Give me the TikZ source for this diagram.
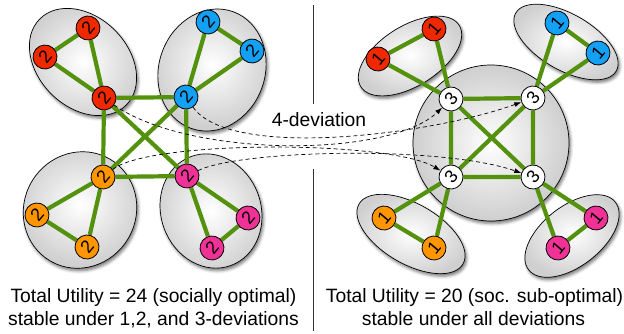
\documentclass[tikz,border=0pt]{standalone}
\usepackage{fontspec}
\setmainfont{Liberation Sans}
\usetikzlibrary{shapes.geometric,shadows.blur,arrows.meta}
\definecolor{gr}{RGB}{84,146,14}
\definecolor{cred}{RGB}{240,40,0}
\definecolor{cblue}{RGB}{20,160,245}
\definecolor{corange}{RGB}{255,150,0}
\definecolor{cpink}{RGB}{240,50,150}
\pgfdeclarelayer{bg}
\pgfdeclarelayer{edge}
\pgfsetlayers{bg,edge,main}
\tikzset{
  blob/.style={ellipse, draw, line width=0.7pt, inner sep=0pt, inner color=white, outer color=gray!38,
    blur shadow={shadow xshift=1.5pt, shadow yshift=-2.5pt, shadow blur radius=3pt, shadow opacity=55}},
  pl/.style={circle, draw, line width=0.8pt, minimum size=24pt, inner sep=0pt,
    font=\fontsize{18}{18}\selectfont, rotate=50},
  gedge/.style={draw=gr, line width=4.2pt},
  dev/.style={dash pattern=on 4pt off 3pt, line width=0.7pt, -{Latex[length=7pt,width=5pt]}},
  lbl/.style={font=\fontsize{19.3}{23}\selectfont, anchor=base}
}
\begin{document}
\begin{tikzpicture}[x=1pt,y=-1pt]
\useasboundingbox (0,0) rectangle (624,333);
% ---------- background blobs ----------
\begin{pgfonlayer}{bg}
\node[blob, minimum width=122pt, minimum height=90pt, rotate=-45] (eR) at (83,62) {};
\node[blob, minimum width=124pt, minimum height=106pt, rotate=70] (eB) at (212,70) {};
\node[blob, minimum width=118pt, minimum height=112pt, rotate=60] (eO) at (80,210) {};
\node[blob, minimum width=116pt, minimum height=100pt, rotate=-70] (eP) at (211,211) {};
\node[blob, circle, minimum size=156pt] (big) at (491,143) {};
\node[blob, minimum width=116pt, minimum height=60pt, rotate=32] (fR) at (410,56) {};
\node[blob, minimum width=116pt, minimum height=56pt, rotate=-30] (fB) at (566,42) {};
\node[blob, minimum width=120pt, minimum height=60pt, rotate=-30] (fO) at (411,234) {};
\node[blob, minimum width=110pt, minimum height=60pt, rotate=38] (fP) at (572,236) {};
\end{pgfonlayer}
% ---------- left nodes ----------
\node[pl, fill=cred] (r1) at (88,28) {2};
\node[pl, fill=cred] (r2) at (45,57) {2};
\node[pl, fill=cred] (rc) at (104,98) {2};
\node[pl, fill=cblue] (b1) at (208,22) {2};
\node[pl, fill=cblue] (b2) at (252,51) {2};
\node[pl, fill=cblue] (bc) at (186,97) {2};
\node[pl, fill=corange] (oc) at (103,177) {2};
\node[pl, fill=corange] (o1) at (37,215) {2};
\node[pl, fill=corange] (o2) at (87,247) {2};
\node[pl, fill=cpink] (pc) at (187,176) {2};
\node[pl, fill=cpink] (p1) at (248,218) {2};
\node[pl, fill=cpink] (p2) at (212,248) {2};
% ---------- right nodes ----------
\node[pl, fill=white] (w1) at (451,99) {3};
\node[pl, fill=white] (w2) at (533,98) {3};
\node[pl, fill=white] (w3) at (451,177) {3};
\node[pl, fill=white] (w4) at (533,177) {3};
\node[pl, fill=cred] (R1) at (434,29) {1};
\node[pl, fill=cred] (R2) at (378,59) {1};
\node[pl, fill=cblue] (B1) at (557,23) {1};
\node[pl, fill=cblue] (B2) at (598,53) {1};
\node[pl, fill=corange] (O1) at (384,218) {1};
\node[pl, fill=corange] (O2) at (434,248) {1};
\node[pl, fill=cpink] (P1) at (596,218) {1};
\node[pl, fill=cpink] (P2) at (558,248) {1};
% ---------- edges ----------
\begin{pgfonlayer}{edge}
\draw[gedge] (r1) -- (r2) (r1) -- (rc) (r2) -- (rc);
\draw[gedge] (b1) -- (b2) (b1) -- (bc) (b2) -- (bc);
\draw[gedge] (o1) -- (o2) (o1) -- (oc) (o2) -- (oc);
\draw[gedge] (p1) -- (p2) (p1) -- (pc) (p2) -- (pc);
\draw[gedge] (rc) -- (bc) (rc) -- (oc) (bc) -- (pc) (oc) -- (pc) (rc) -- (pc) (bc) -- (oc);
\draw[gedge] (w1) -- (w2) (w1) -- (w3) (w2) -- (w4) (w3) -- (w4) (w1) -- (w4) (w2) -- (w3);
\draw[gedge] (R1) -- (R2) (R1) -- (w1) (R2) -- (w1);
\draw[gedge] (B1) -- (B2) (B1) -- (w2) (B2) -- (w2);
\draw[gedge] (O1) -- (O2) (O1) -- (w3) (O2) -- (w3);
\draw[gedge] (P1) -- (P2) (P1) -- (w4) (P2) -- (w4);
% deviation arrows
\draw[dev] (rc) .. controls (190,158) and (390,158) .. (w1);
\draw[dev] (bc) .. controls (230,160) and (430,135) .. (w2);
\draw[dev] (oc) .. controls (150,140) and (390,140) .. (w3);
\draw[dev] (pc) .. controls (240,150) and (440,145) .. (w4);
\end{pgfonlayer}
% ---------- divider and labels ----------
\draw[line width=0.8pt, black!80] (313,5) -- (313,104);
\draw[line width=0.8pt, black!80] (313,169) -- (313,331);
\node[lbl] (dl) at (319,126) {4-deviation};
\node[lbl] (tl1) at (153.5,302) {Total Utility = 24 (socially optimal)};
\node[lbl] (tl2) at (153.5,325) {stable under 1,2, and 3-deviations};
\node[lbl] (tr1) at (474.5,302) {Total Utility = 20 (soc. sub-optimal)};
\node[lbl] (tr2) at (473.5,325) {stable under all deviations};
\end{tikzpicture}
\end{document}
